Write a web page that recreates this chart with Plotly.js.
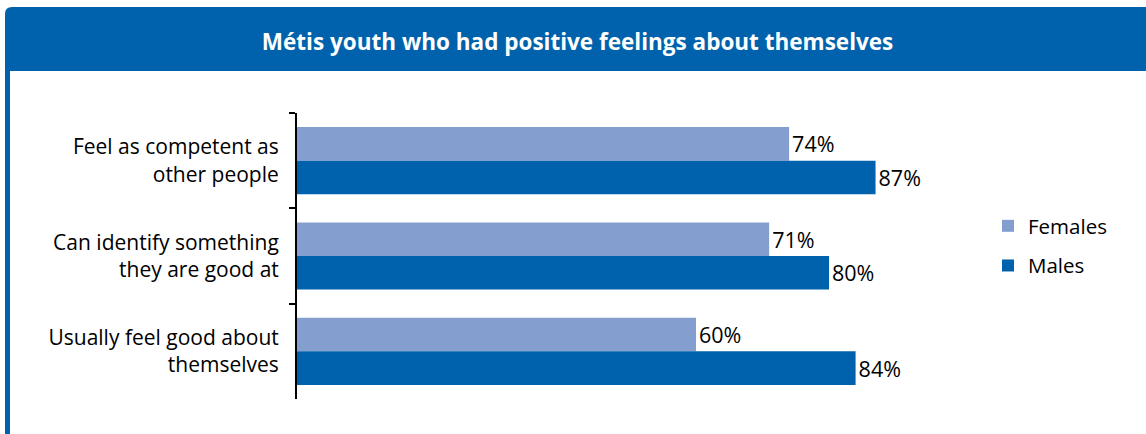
<!DOCTYPE html>
<html>
<head>
<meta charset="utf-8">
<script src="https://cdn.plot.ly/plotly-3.0.1.min.js"></script>
<style>
html,body{margin:0;padding:0;background:#fff;overflow:hidden;}
#chart{width:1146px;height:434px;}
</style>
</head>
<body>
<div id="chart"></div>
<script>
var categories = ["Feel as competent as<br>other people", "Can identify something<br>they are good at", "Usually feel good about<br>themselves"];
var females = [74, 71, 60];
var males = [87, 80, 84];
var seriesNames = ["Females", "Males"];
var chartTitle = "Métis youth who had positive feelings about themselves";

var FONT = "'Open Sans', sans-serif";
var femColor = "#849fcf";
var maleColor = "#0062ac";

function pct(arr){ return arr.map(function(v){ return v + "%"; }); }

var traces = [
  {type:"bar", orientation:"h", name:seriesNames[0], y:categories, x:females,
   text:pct(females), textposition:"outside", cliponaxis:false,
   textfont:{family:FONT, size:21.5, color:"#000"},
   marker:{color:femColor}, legendgroup:"f", hoverinfo:"x+name"},
  {type:"bar", orientation:"h", name:seriesNames[1], y:categories, x:males,
   text:pct(males), textposition:"outside", cliponaxis:false,
   textfont:{family:FONT, size:21.5, color:"#000"},
   marker:{color:maleColor}, legendgroup:"m", hoverinfo:"x+name"}
];

// pixel -> paper helpers (plot area: x 297..962, y 113..399)
var L=297, R=962, T=113, B=399;
function px(x){ return (x-L)/(R-L); }
function py(y){ return (B-y)/(B-T); }
var rx = 7/(R-L), ry = 7/(B-T);
var hx0=px(5), hx1=px(1146), hy0=py(71), hy1=py(7);
var headerPath = "M "+hx0+" "+hy0+" L "+hx0+" "+(hy1-ry)+" Q "+hx0+" "+hy1+" "+(hx0+rx)+" "+hy1+
  " L "+hx1+" "+hy1+" L "+hx1+" "+hy0+" Z";

var layout = {
  width:1146, height:434,
  margin:{l:L, r:1146-R, t:T, b:434-B, pad:0},
  paper_bgcolor:"#ffffff", plot_bgcolor:"#ffffff",
  barmode:"group", bargap:0.295, bargroupgap:0,
  font:{family:FONT, size:21, color:"#000"},
  title:{text:"<b>"+chartTitle+"</b>", font:{family:FONT, size:22.5, color:"#ffffff"},
         xref:"container", x:0.504, xanchor:"center", yref:"container", y:1-42/434, yanchor:"middle"},
  xaxis:{range:[0,100], visible:false, fixedrange:true},
  yaxis:{autorange:"reversed", showline:true, linecolor:"#000", linewidth:2,
         ticks:"outside", tickson:"boundaries", ticklen:6, tickwidth:2, tickcolor:"#000",
         ticklabelstandoff:12, showgrid:false, zeroline:false, fixedrange:true,
         tickfont:{family:FONT, size:21, color:"#000"}},
  legend:{x:px(988), xanchor:"left", y:py(246), yanchor:"middle",
          font:{family:FONT, size:20.5, color:"#000"}, tracegroupgap:10,
          bgcolor:"rgba(0,0,0,0)"},
  shapes:[
    {type:"path", xref:"paper", yref:"paper", path:headerPath, fillcolor:"#0062ac", line:{width:0}, layer:"below"},
    {type:"rect", xref:"paper", yref:"paper", x0:px(5), x1:px(10), y0:py(434), y1:py(71), fillcolor:"#0062ac", line:{width:0}, layer:"below"}
  ],
  showlegend:true
};

Plotly.newPlot("chart", traces, layout, {displayModeBar:false, staticPlot:true});
</script>
</body>
</html>
